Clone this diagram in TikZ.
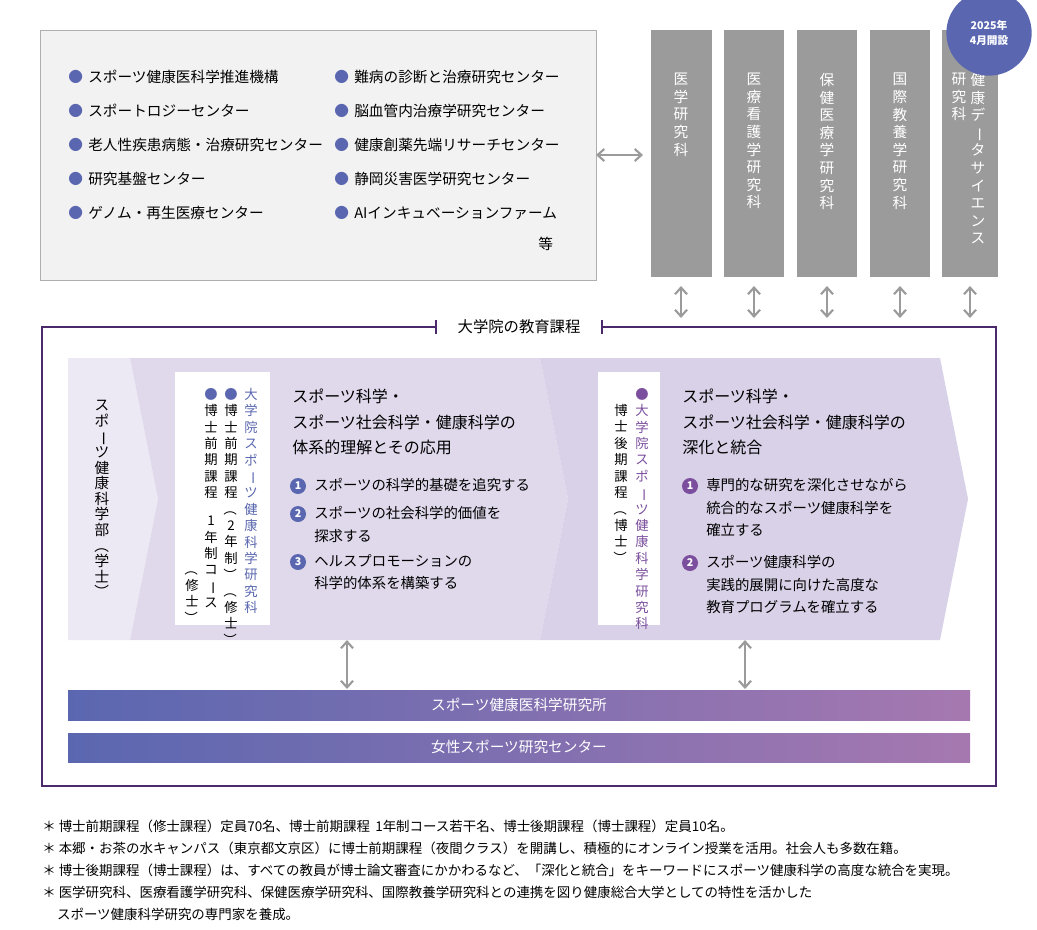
\documentclass[tikz,border=0pt]{standalone}
\usepackage{fontspec}
\setmainfont{Noto Sans CJK JP}
\usetikzlibrary{positioning,arrows.meta,shapes.geometric}
\definecolor{frameC}{HTML}{4B2A6B}
\definecolor{colC}{HTML}{9B9B9B}
\definecolor{blueC}{HTML}{5A67B0}
\definecolor{purpC}{HTML}{A678B0}
\definecolor{violC}{HTML}{7B4F9E}
\definecolor{chevA}{HTML}{EDE9F4}
\definecolor{chevB}{HTML}{E0D9EC}
\definecolor{chevC}{HTML}{D9D1E7}
\makeatletter
\newcommand\vt[1]{\vbox{\@tfor\vch:=#1\do{\hbox to 1.1em{\hss\vch\hss}}}}
\makeatother
\newcommand\vbar{\rotatebox[origin=c]{-90}{ー}}
\newcommand\vlp{\rotatebox[origin=c]{-90}{（}}
\newcommand\vrp{\rotatebox[origin=c]{-90}{）}}
\tikzset{
  colbox/.style={fill=colC,draw=none},
  coltext/.style={anchor=north,inner sep=0pt,text=white,font=\fontsize{11}{13.2}\selectfont},
  dual/.style={{Straight Barb[length=5pt,width=9pt]}-{Straight Barb[length=5pt,width=9pt]},line width=1.6pt,draw=colC},
  bul/.style={anchor=west,inner sep=0pt,font=\fontsize{11}{13}\selectfont},
  txt/.style={anchor=north west,inner sep=0pt,align=left,font=\fontsize{10.8}{17}\selectfont},
  head/.style={anchor=north west,inner sep=0pt,align=left,font=\fontsize{12}{19}\selectfont},
  num/.style={circle,inner sep=0pt,minimum size=12pt,text=white,font=\fontsize{8}{8}\selectfont\bfseries},
  vtxt/.style={anchor=north,inner sep=0pt,font=\fontsize{10}{12.3}\selectfont},
  band/.style={left color=blueC,right color=purpC,draw=none},
  note/.style={anchor=north west,inner sep=0pt,align=left,font=\fontsize{10.1}{16.5}\selectfont}
}
\begin{document}
\begin{tikzpicture}[x=0.75pt,y=-0.75pt]
\useasboundingbox (0,0) rectangle (1037,929);
\fill[white] (0,0) rectangle (1037,929);
% research centres
\draw[draw=colC!80,fill=black!5] (40,30) rectangle (596,280);
\foreach \t [count=\i] in {スポーツ健康医科学推進機構,スポートロジーセンター,老人性疾患病態・治療研究センター,研究基盤センター,ゲノム・再生医療センター}
  \node[bul] at (68,77+34*\i-34) {\textcolor{blueC}{●}\hspace{4pt}\t};
\foreach \t [count=\i] in {難病の診断と治療研究センター,脳血管内治療学研究センター,健康創薬先端リサーチセンター,静岡災害医学研究センター,AIインキュベーションファーム}
  \node[bul] at (334,77+34*\i-34) {\textcolor{blueC}{●}\hspace{4pt}\t};
\node[bul] (etc) at (538,244) {等};
% graduate schools
\draw[colbox] (651,30) rectangle (712,277) coordinate (g1);
\draw[colbox] (724,30) rectangle (784,277) coordinate (g2);
\draw[colbox] (797,30) rectangle (857,277) coordinate (g3);
\draw[colbox] (870,30) rectangle (930,277) coordinate (g4);
\draw[colbox] (942,30) rectangle (998,277) coordinate (g5);
\node[coltext] at (681,73) {\vt{医学研究科}};
\node[coltext] at (754,73) {\vt{医療看護学研究科}};
\node[coltext] at (827,73) {\vt{保健医療学研究科}};
\node[coltext] at (900,73) {\vt{国際教養学研究科}};
\node[coltext] at (978,73) {\vt{健康デ\vbar タサイエンス}};
\node[coltext] at (959,73) {\vt{研究科}};
\node[circle,fill=blueC,minimum size=64pt,inner sep=0pt,align=center,text=white,
  font=\fontsize{8}{11}\selectfont\bfseries] (new) at (989,33) {2025年\\4月開設};
\coordinate (cl) at (596,155); \coordinate (cr) at (643,155);
\draw[dual] (cl) -- (cr);
\foreach \x in {681,754,827,900,970}
  \draw[dual] (\x,286) -- (\x,318);
% frame
\draw[frameC,line width=1pt] (42,327) rectangle (996,786);
\node[fill=white,inner xsep=16pt,font=\fontsize{11.5}{13}\selectfont] (ttl) at (519,327) {大学院の教育課程};
\draw[frameC,line width=1pt] (ttl.west) ++(0,-7) -- ++(0,14);
\draw[frameC,line width=1pt] (ttl.east) ++(0,-7) -- ++(0,14);
% chevrons
\fill[chevA] (68,358) -- (130,358) -- (158,499) -- (130,640) -- (68,640) -- cycle;
\fill[chevB] (130,358) -- (540,358) -- (568,499) -- (540,640) -- (130,640) -- (158,499) -- cycle;
\fill[chevC] (540,358) -- (940,358) -- (968,499) -- (940,640) -- (540,640) -- (568,499) -- cycle;
\node[vtxt,font=\fontsize{11}{11.7}\selectfont] at (102,400) {\vt{スポ\vbar ツ健康科学部\vlp 学士\vrp}};
% master course
\fill[white] (175,372) rectangle (270,625);
\node[vtxt,text=blueC] at (251,388) {\vt{大学院スポ\vbar ツ健康科学研究科}};
\node[vtxt] at (231,388) {\vt{{\textcolor{blueC}{●}}博士前期課程\vlp 2年制\vrp\vlp 修士\vrp}};
\node[vtxt] at (211,388) {\vt{{\textcolor{blueC}{●}}博士前期課程}};
\node[vtxt] at (211,516) {\vt{1年制コ\vbar ス}};
\node[vtxt] at (192,562) {\vt{\vlp 修士\vrp}};
\node[head] at (292,389) {スポーツ科学・\\スポーツ社会科学・健康科学の\\体系的理解とその応用};
\node[num,fill=blueC] at (298,486) {1};
\node[txt] at (314,478) {スポーツの科学的基礎を追究する};
\node[num,fill=blueC] at (298,514) {2};
\node[txt] at (314,506) {スポーツの社会科学的価値を\\探求する};
\node[num,fill=blueC] at (298,562) {3};
\node[txt] at (314,554) {ヘルスプロモーションの\\科学的体系を構築する};
% doctor course
\fill[white] (598,372) rectangle (660,625);
\node[vtxt,text=violC] at (642,388) {\vt{{\textcolor{violC}{●}}大学院スポ\vbar ツ健康科学研究科}};
\node[vtxt] at (621,404) {\vt{博士後期課程\vlp 博士\vrp}};
\node[head] at (682,389) {スポーツ科学・\\スポーツ社会科学・健康科学の\\深化と統合};
\node[num,fill=violC] at (690,486) {1};
\node[txt] at (706,478) {専門的な研究を深化させながら\\統合的なスポーツ健康科学を\\確立する};
\node[num,fill=violC] at (690,563) {2};
\node[txt] at (706,555) {スポーツ健康科学の\\実践的展開に向けた高度な\\教育プログラムを確立する};
% institutes
\fill[band] (68,690) rectangle (970,720);
\node[text=white,font=\fontsize{11}{12}\selectfont] (inst) at (519,705) {スポーツ健康医科学研究所};
\fill[band] (68,733) rectangle (970,762);
\node[text=white,font=\fontsize{11}{12}\selectfont] (wsc) at (519,747) {女性スポーツ研究センター};
\draw[dual] (347,640) -- (347,689);
\draw[dual] (745,640) -- (745,689);
% notes
\node[note] at (42,820) {＊ 博士前期課程（修士課程）定員70名、博士前期課程\hspace{4pt}1年制コース若干名、博士後期課程（博士課程）定員10名。\\
＊ 本郷・お茶の水キャンパス（東京都文京区）に博士前期課程（夜間クラス）を開講し、積極的にオンライン授業を活用。社会人も多数在籍。\\
＊ 博士後期課程（博士課程）は、すべての教員が博士論文審査にかかわるなど、「深化と統合」をキーワードにスポーツ健康科学の高度な統合を実現。\\
＊ 医学研究科、医療看護学研究科、保健医療学研究科、国際教養学研究科との連携を図り健康総合大学としての特性を活かした\\
\hspace{1.1em}スポーツ健康科学研究の専門家を養成。};
\end{tikzpicture}
\end{document}
